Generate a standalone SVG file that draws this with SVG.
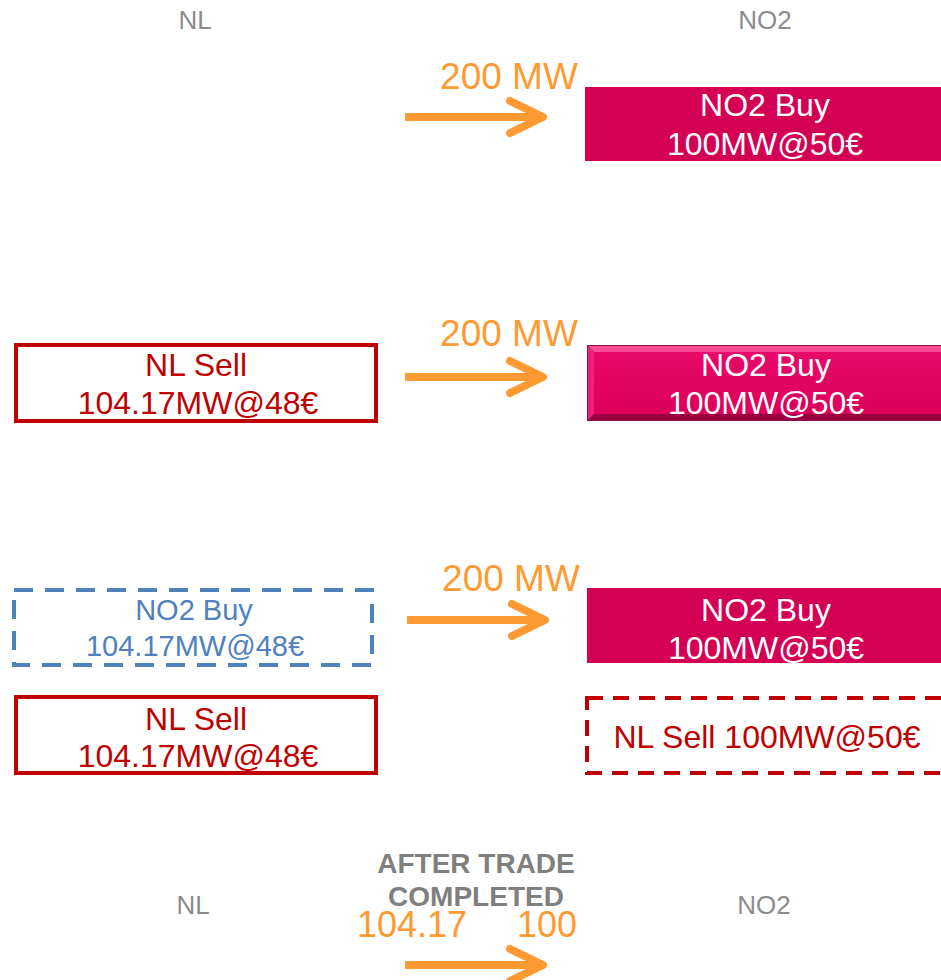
<svg xmlns="http://www.w3.org/2000/svg" width="941" height="980" viewBox="0 0 941 980">
<style>
text{font-family:"Liberation Sans",Arial,sans-serif;text-anchor:middle}
.hdr{font-size:26px;fill:#8c8c8c}
.flow{font-size:37px;fill:#ff9a33}
.wt{font-size:32px;fill:#ffffff}
.rt{font-size:32px;fill:#c00000}
.bt{font-size:29px;fill:#4f81bd}
.bold{font-size:28px;font-weight:bold;fill:#7f7f7f}
.buy{fill:#d40054}
.sell{fill:#ffffff;stroke:#c00000;stroke-width:4}
.dsell{fill:none;stroke:#c00000;stroke-width:4;stroke-dasharray:16 10}
.dbuy{fill:none;stroke:#4f81bd;stroke-width:4;stroke-dasharray:19 12}
.arr{fill:none;stroke:#ff9a33;stroke-width:8;stroke-linecap:round;stroke-linejoin:round}
.shaft{stroke:#ff9a33;stroke-width:8}
</style>
<defs>
<linearGradient id="bev" x1="0" y1="0" x2="0" y2="1">
<stop offset="0" stop-color="#e8086a"/>
<stop offset="1" stop-color="#dc005a"/>
</linearGradient>
</defs>

<g id="headers">
<text class="hdr" x="195" y="29">NL</text>
<text class="hdr" x="765" y="29">NO2</text>
</g>

<g id="s1-no2buy">
<rect class="buy" x="585" y="87" width="360" height="74"/>
<text class="wt" x="765" y="116">NO2 Buy</text>
<text class="wt" x="765" y="155">100MW@50€</text>
</g>

<g id="s2-nlsell">
<rect class="sell" x="16" y="345" width="360" height="76"/>
<text class="rt" x="196" y="376">NL Sell</text>
<text class="rt" x="198" y="414">104.17MW@48€</text>
</g>

<g id="s2-no2buy">
<rect x="587" y="345" width="358" height="76" fill="#8a1048"/>
<polygon points="588,346 945,346 945,352 594,352" fill="#ff4a95"/>
<polygon points="588,346 594,352 594,414 588,420" fill="#f0207a"/>
<polygon points="588,420 594,414 945,414 945,420" fill="#9a0040"/>
<rect x="594" y="352" width="351" height="62" fill="url(#bev)"/>
<text class="wt" x="766" y="376">NO2 Buy</text>
<text class="wt" x="766" y="414">100MW@50€</text>
</g>

<g id="s3-no2buy-dashed">
<rect class="dbuy" x="14" y="590" width="358" height="75"/>
<text class="bt" x="194" y="620">NO2 Buy</text>
<text class="bt" x="195" y="656">104.17MW@48€</text>
</g>

<g id="s3-no2buy">
<rect class="buy" x="587" y="588" width="358" height="75"/>
<text class="wt" x="766" y="621">NO2 Buy</text>
<text class="wt" x="766" y="659">100MW@50€</text>
</g>

<g id="s3-nlsell">
<rect class="sell" x="16" y="697" width="360" height="76"/>
<text class="rt" x="196" y="730">NL Sell</text>
<text class="rt" x="198" y="767">104.17MW@48€</text>
</g>

<g id="s3-nlsell-dashed">
<rect class="dsell" x="587" y="698" width="360" height="75"/>
<text class="rt" x="767" y="748">NL Sell 100MW@50€</text>
</g>

<g id="after-trade">
<text class="bold" x="476" y="873">AFTER TRADE</text>
<text class="bold" x="476" y="906">COMPLETED</text>
<text class="hdr" x="193" y="914">NL</text>
<text class="hdr" x="764" y="914">NO2</text>
</g>

<g id="connectors">
<line class="shaft" x1="405" y1="117" x2="540" y2="117"/>
<polyline class="arr" points="510,101 543,117 510,133"/>
<text class="flow" x="509" y="89">200 MW</text>

<line class="shaft" x1="405" y1="377" x2="540" y2="377"/>
<polyline class="arr" points="510,361 543,377 510,393"/>
<text class="flow" x="509" y="346">200 MW</text>

<line class="shaft" x1="407" y1="620" x2="542" y2="620"/>
<polyline class="arr" points="512,604 545,620 512,636"/>
<text class="flow" x="511" y="591">200 MW</text>

<line class="shaft" x1="405" y1="965" x2="540" y2="965"/>
<polyline class="arr" points="510,949 543,965 510,981"/>
<text class="flow" x="412" y="937" style="font-size:36px">104.17</text>
<text class="flow" x="547" y="937" style="font-size:36px">100</text>
</g>
</svg>
